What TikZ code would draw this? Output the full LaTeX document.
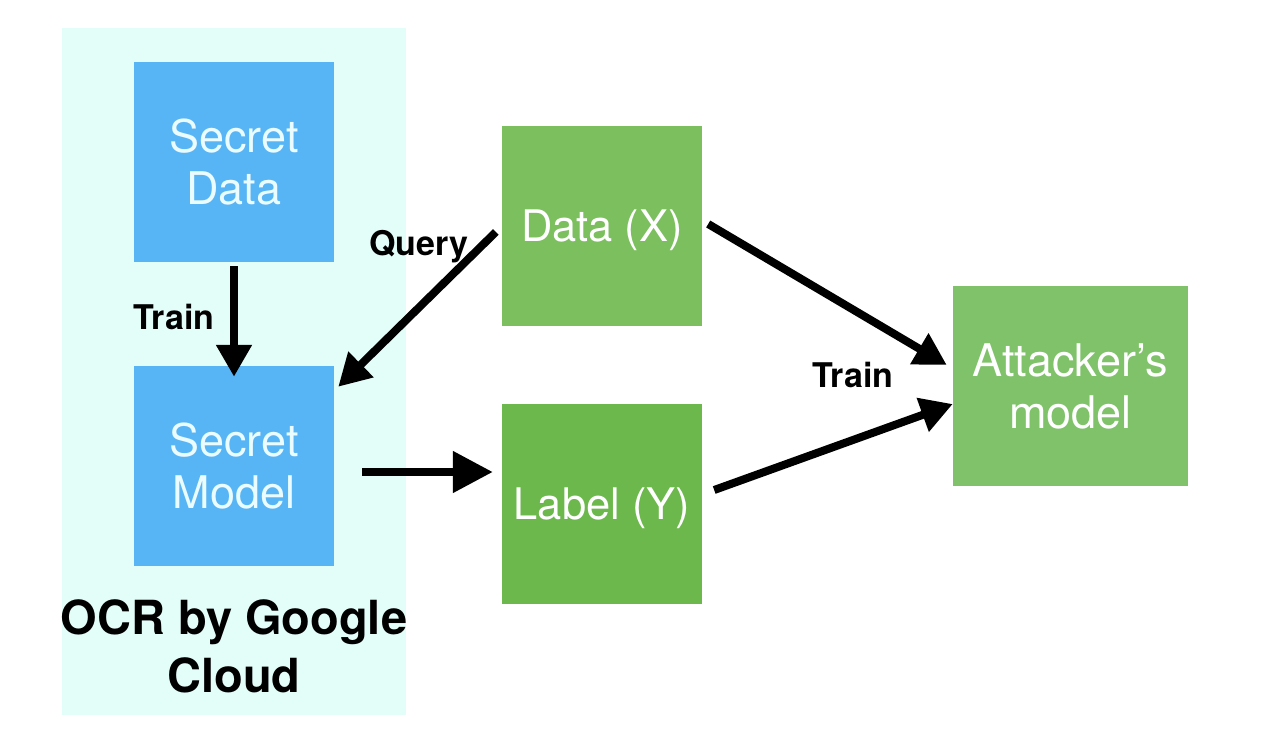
\documentclass[tikz,border=0pt]{standalone}
\usepackage{fontspec}
\setmainfont{TeX Gyre Heros}
\usetikzlibrary{arrows.meta,calc}
\definecolor{cloudbg}{HTML}{E3FDF9}
\definecolor{secblue}{HTML}{58B5F5}
\definecolor{datagreen}{HTML}{7BBF5E}
\definecolor{labgreen}{HTML}{6CB84C}
\definecolor{attgreen}{HTML}{80C26A}
\definecolor{softwhite}{HTML}{EAFCFF}

\begin{document}
\begin{tikzpicture}[x=1pt,y=-1pt,
		box/.style={minimum width=200pt,minimum height=200pt,inner sep=0pt,align=center,text=white,font=\fontsize{45}{52}\selectfont},
		onebox/.style={box,text depth=0pt,font=\fontsize{43.5}{52}\selectfont},
		arr/.style={line width=8pt,-{Triangle[length=32pt,width=34pt]}},
		lbl/.style={font=\bfseries\fontsize{34}{40}\selectfont,anchor=base}]
			\useasboundingbox (0,0) rectangle (1276,752);
			\fill[cloudbg] (62,28) rectangle (406,715);
			% secret side
			\node[box,fill=secblue,text=softwhite] (sdata) at (234,162) {Secret\\Data};
			\node[box,fill=secblue,text=softwhite] (smodel) at (234,466) {Secret\\Model};
			\node[align=center,font=\bfseries\fontsize{47}{58}\selectfont] (ocr) at (234,646) {OCR by Google\\Cloud};
			% attacker side
			\node[onebox,fill=datagreen] (datax) at (602,226) {Data (X)};
			\node[onebox,fill=labgreen] (labely) at (602,504) {Label (Y)};
			\node[box,fill=attgreen,minimum width=235pt] (att) at (1070.5,386) {Attacker’s\\model};
			% arrows
			\draw[arr] ($(sdata.south)+(0,4)$) -- ($(smodel.north)+(0,11)$);
			\draw[arr] ($(datax.west)+(-6,6)$) -- ($(smodel.north east)+(4,21)$);
			\draw[arr,-{Triangle[length=40pt,width=40pt]}] ($(smodel.east)+(28,6)$) -- ($(labely.west)+(-9,-32)$);
			\draw[arr] ($(datax.east)+(6,-2)$) -- ($(att.west)+(-6,-21)$);
			\draw[arr] ($(labely.east)+(12,-14)$) -- ($(att.west)+(0,18)$);
			\node[lbl] (ltrain) at (174,329) {Train};
			\node[lbl] (lquery) at (419,255) {Query};
			\node[lbl] (rtrain) at (853,387) {Train};
		\end{tikzpicture}
\end{document}
